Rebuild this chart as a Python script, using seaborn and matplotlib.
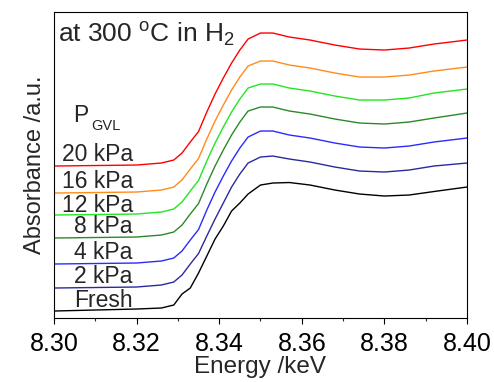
import numpy as np
import pandas as pd
import matplotlib
matplotlib.use('Agg')
import matplotlib.pyplot as plt
import seaborn as sns

# energy grid (keV)
energy = [8.300, 8.310, 8.320, 8.326, 8.329, 8.331, 8.333, 8.335, 8.337, 8.339,
          8.341, 8.343, 8.345, 8.347, 8.350, 8.353, 8.357, 8.362, 8.368, 8.374,
          8.380, 8.386, 8.392, 8.400]

# stacked spectra (a.u.)
fresh = [0.07, 0.08, 0.09, 0.10, 0.13, 0.24, 0.30, 0.45, 0.62, 0.79, 0.92, 1.07,
         1.15, 1.24, 1.33, 1.35, 1.355, 1.33, 1.28, 1.24, 1.22, 1.23, 1.265, 1.31]
kpa2 = [0.30, 0.305, 0.31, 0.33, 0.36, 0.43, 0.54, 0.645, 0.82, 0.99, 1.15, 1.31,
        1.44, 1.55, 1.61, 1.62, 1.59, 1.56, 1.51, 1.47, 1.46, 1.48, 1.52, 1.55]
kpa4 = [0.54, 0.545, 0.55, 0.57, 0.60, 0.67, 0.78, 0.885, 1.08, 1.26, 1.42, 1.57,
        1.70, 1.81, 1.87, 1.87, 1.83, 1.80, 1.75, 1.71, 1.70, 1.72, 1.76, 1.80]
kpa8 = [0.80, 0.805, 0.81, 0.83, 0.86, 0.93, 1.04, 1.145, 1.34, 1.52, 1.68, 1.83,
        1.96, 2.07, 2.11, 2.11, 2.07, 2.04, 1.99, 1.95, 1.94, 1.96, 2.00, 2.05]
kpa12 = [1.03, 1.035, 1.04, 1.06, 1.09, 1.16, 1.27, 1.375, 1.57, 1.75, 1.91, 2.06,
         2.19, 2.30, 2.34, 2.34, 2.30, 2.27, 2.22, 2.18, 2.18, 2.20, 2.25, 2.29]
kpa16 = [1.25, 1.255, 1.26, 1.28, 1.31, 1.38, 1.49, 1.595, 1.79, 1.97, 2.13, 2.28,
         2.41, 2.52, 2.57, 2.57, 2.53, 2.50, 2.45, 2.41, 2.41, 2.43, 2.47, 2.51]
kpa20 = [1.52, 1.525, 1.53, 1.55, 1.58, 1.65, 1.76, 1.865, 2.06, 2.24, 2.40, 2.55,
         2.68, 2.79, 2.85, 2.85, 2.81, 2.78, 2.73, 2.69, 2.68, 2.70, 2.74, 2.78]

labels = ['Fresh', '2 kPa', '4 kPa', '8 kPa', '12 kPa', '16 kPa', '20 kPa']
label_y = [0.11, 0.35, 0.59, 0.85, 1.06, 1.30, 1.57]
colors = ['#000000', '#2a2aa0', '#2b2bff', '#2a8a2a', '#22e622', '#ff8c1a', '#ff0000']

series = [fresh, kpa2, kpa4, kpa8, kpa12, kpa16, kpa20]
df = pd.concat([pd.DataFrame({'energy': energy, 'absorbance': s, 'sample': lab})
                for s, lab in zip(series, labels)])

sns.set_theme(style='ticks')
plt.rcParams['font.family'] = ['Liberation Sans', 'DejaVu Sans']
plt.rcParams['mathtext.fontset'] = 'custom'
plt.rcParams['mathtext.rm'] = 'Liberation Sans'
plt.rcParams['mathtext.it'] = 'Liberation Sans'

fig = plt.figure(figsize=(4.94, 3.82), dpi=100)
ax = fig.add_axes([0.1093, 0.1675, 0.836, 0.801])

sns.lineplot(data=df, x='energy', y='absorbance', hue='sample', palette=colors,
             linewidth=1.0, legend=False, ax=ax)

ax.set_xlim(8.30, 8.40)
ax.set_ylim(0, 3.06)
ax.set_xticks([8.30, 8.32, 8.34, 8.36, 8.38, 8.40])
ax.set_xticks(np.arange(8.31, 8.40, 0.02), minor=True)
ax.set_xticklabels(['8.30', '8.32', '8.34', '8.36', '8.38', '8.40'])
ax.set_yticks([])
ax.tick_params(axis='x', which='major', direction='out', length=4, width=0.8,
               labelsize=18, pad=6, colors='black')
ax.tick_params(axis='x', which='minor', direction='out', length=2, width=0.8)
for sp in ax.spines.values():
    sp.set_linewidth(0.8)
    sp.set_color('black')

ax.set_xlabel('Energy /keV', fontsize=17.5, labelpad=0)
ax.set_ylabel('Absorbance /a.u.', fontsize=17, labelpad=6)

for lab, y in zip(labels, label_y):
    ax.text(8.3191, y, lab, ha='right', va='baseline', fontsize=16.5)

ax.text(8.3046, 1.96, 'P', ha='left', va='baseline', fontsize=16.5)
ax.text(8.3090, 1.88, 'GVL', ha='left', va='baseline', fontsize=10.5)
ax.text(8.3010, 2.75, r'at 300 $^{\rm o}$C in H$_2$', ha='left', va='baseline',
        fontsize=19)

fig.savefig('out.png', dpi=100)
